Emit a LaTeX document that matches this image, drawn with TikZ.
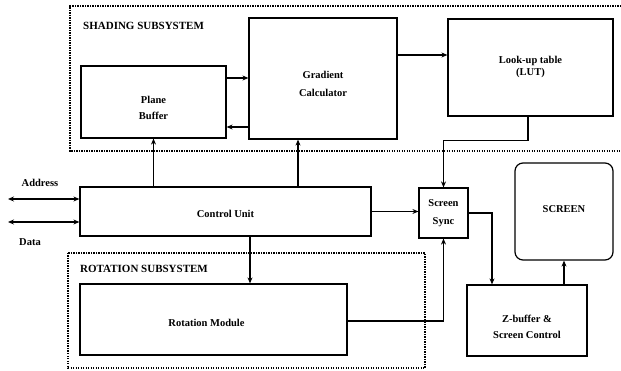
\documentclass[tikz,border=0pt]{standalone}
\usepackage{fontspec}
\setmainfont{Liberation Serif}
\usetikzlibrary{arrows.meta}
\tikzset{
  box/.style={draw, line width=1.2pt, inner sep=0pt},
  lbl/.style={font=\fontsize{10.5}{12}\selectfont\bfseries, align=center, inner sep=0pt},
  arr/.style={line width=1.1pt, -{Stealth[length=6pt,width=5pt]}},
  darr/.style={line width=1.1pt, {Stealth[length=6pt,width=5pt]}-{Stealth[length=6pt,width=5pt]}},
  frame/.style={line width=1.3pt, dash pattern=on 1.2pt off 1.3pt},
  title/.style={font=\fontsize{11}{13}\selectfont\bfseries, inner sep=0pt, anchor=west}
}
\begin{document}
\begin{tikzpicture}[x=1pt,y=-1pt]
\useasboundingbox (0,0) rectangle (621,371);
% frames
\draw[frame] (621,6) -- (70,6) -- (70,151) -- (621,151);
\draw[frame] (68,253) rectangle (425,368);
\node[title] (shadt) at (83,26) {SHADING SUBSYSTEM};
\node[title] (rott) at (80,269) {ROTATION SUBSYSTEM};
% boxes
\node[box, minimum width=145pt, minimum height=72pt] (pb) at (153.5,102) {};
\node[lbl] (pbt) at ([yshift=-6pt]pb.center) {Plane\\[4pt]Buffer};
\node[box, minimum width=148pt, minimum height=121pt] (gc) at (323,78.5) {};
\node[lbl] (gct) at ([yshift=-5pt]gc.center) {Gradient\\[6pt]Calculator};
\node[box, minimum width=165pt, minimum height=97pt] (lut) at (530.5,67.5) {};
\node[lbl] (lutt) at ([yshift=1pt]lut.center) {Look-up table\\[0pt](LUT)};
\node[box, minimum width=291pt, minimum height=49pt] (cu) at (225.5,211.5) {};
\node[lbl] (cut) at ([yshift=-2pt]cu.center) {Control Unit};
\node[box, minimum width=49pt, minimum height=50pt] (ss) at (443.5,213) {};
\node[lbl] (sst) at (ss.center) {Screen\\[6pt]Sync};
\node[box, minimum width=267pt, minimum height=71pt] (rm) at (213.5,319.5) {};
\node[lbl] (rmt) at ([xshift=-7pt,yshift=-3pt]rm.center) {Rotation Module};
\node[box, minimum width=120pt, minimum height=71pt] (zb) at (527,320.5) {};
\node[lbl] (zbt) at ([yshift=-6pt]zb.center) {Z-buffer \&\\[4pt]Screen Control};
\node[box, rounded corners=8pt, minimum width=98pt, minimum height=97pt] (scr) at (564,211.5) {};
\node[lbl] (scrt) at ([yshift=2pt]scr.center) {SCREEN};
% external labels
\node[lbl] (addrt) at (40,183) {Address};
\node[lbl] (datat) at (30,242) {Data};
\coordinate (addr) at (8,199);
\coordinate (data) at (8,222);
% connectors
\draw[darr] (addr) -- (addr -| cu.west);
\draw[darr] (data) -- (data -| cu.west);
\draw[arr] ([yshift=24pt]pb.east) -- ([yshift=24pt]pb.east -| gc.west);
\draw[arr] ([yshift=-48.5pt]gc.west) -- ([yshift=-48.5pt]gc.west -| pb.east);
\draw[arr] ([yshift=23.5pt]gc.east) -- ([yshift=23.5pt]gc.east -| lut.west);
\draw[arr] ([xshift=-2.5pt]lut.south) -- ++(0,24) -| (ss.north);
\draw[arr] (cu.north -| pb.south) -- (pb.south);
\draw[arr] ([xshift=-25pt]gc.south |- cu.north) -- ([xshift=-25pt]gc.south);
\draw[arr] ([xshift=24.5pt]cu.south) -- ([xshift=24.5pt]cu.south |- rm.north);
\draw[arr] (cu.east) -- (cu.east -| ss.west);
\draw[arr] ([yshift=-1.5pt]rm.east) -| (ss.south);
\draw[arr] (ss.east) -| ([xshift=-35pt]zb.north);
\draw[arr] (zb.north -| scr.south) -- (scr.south);
\end{tikzpicture}
\end{document}
